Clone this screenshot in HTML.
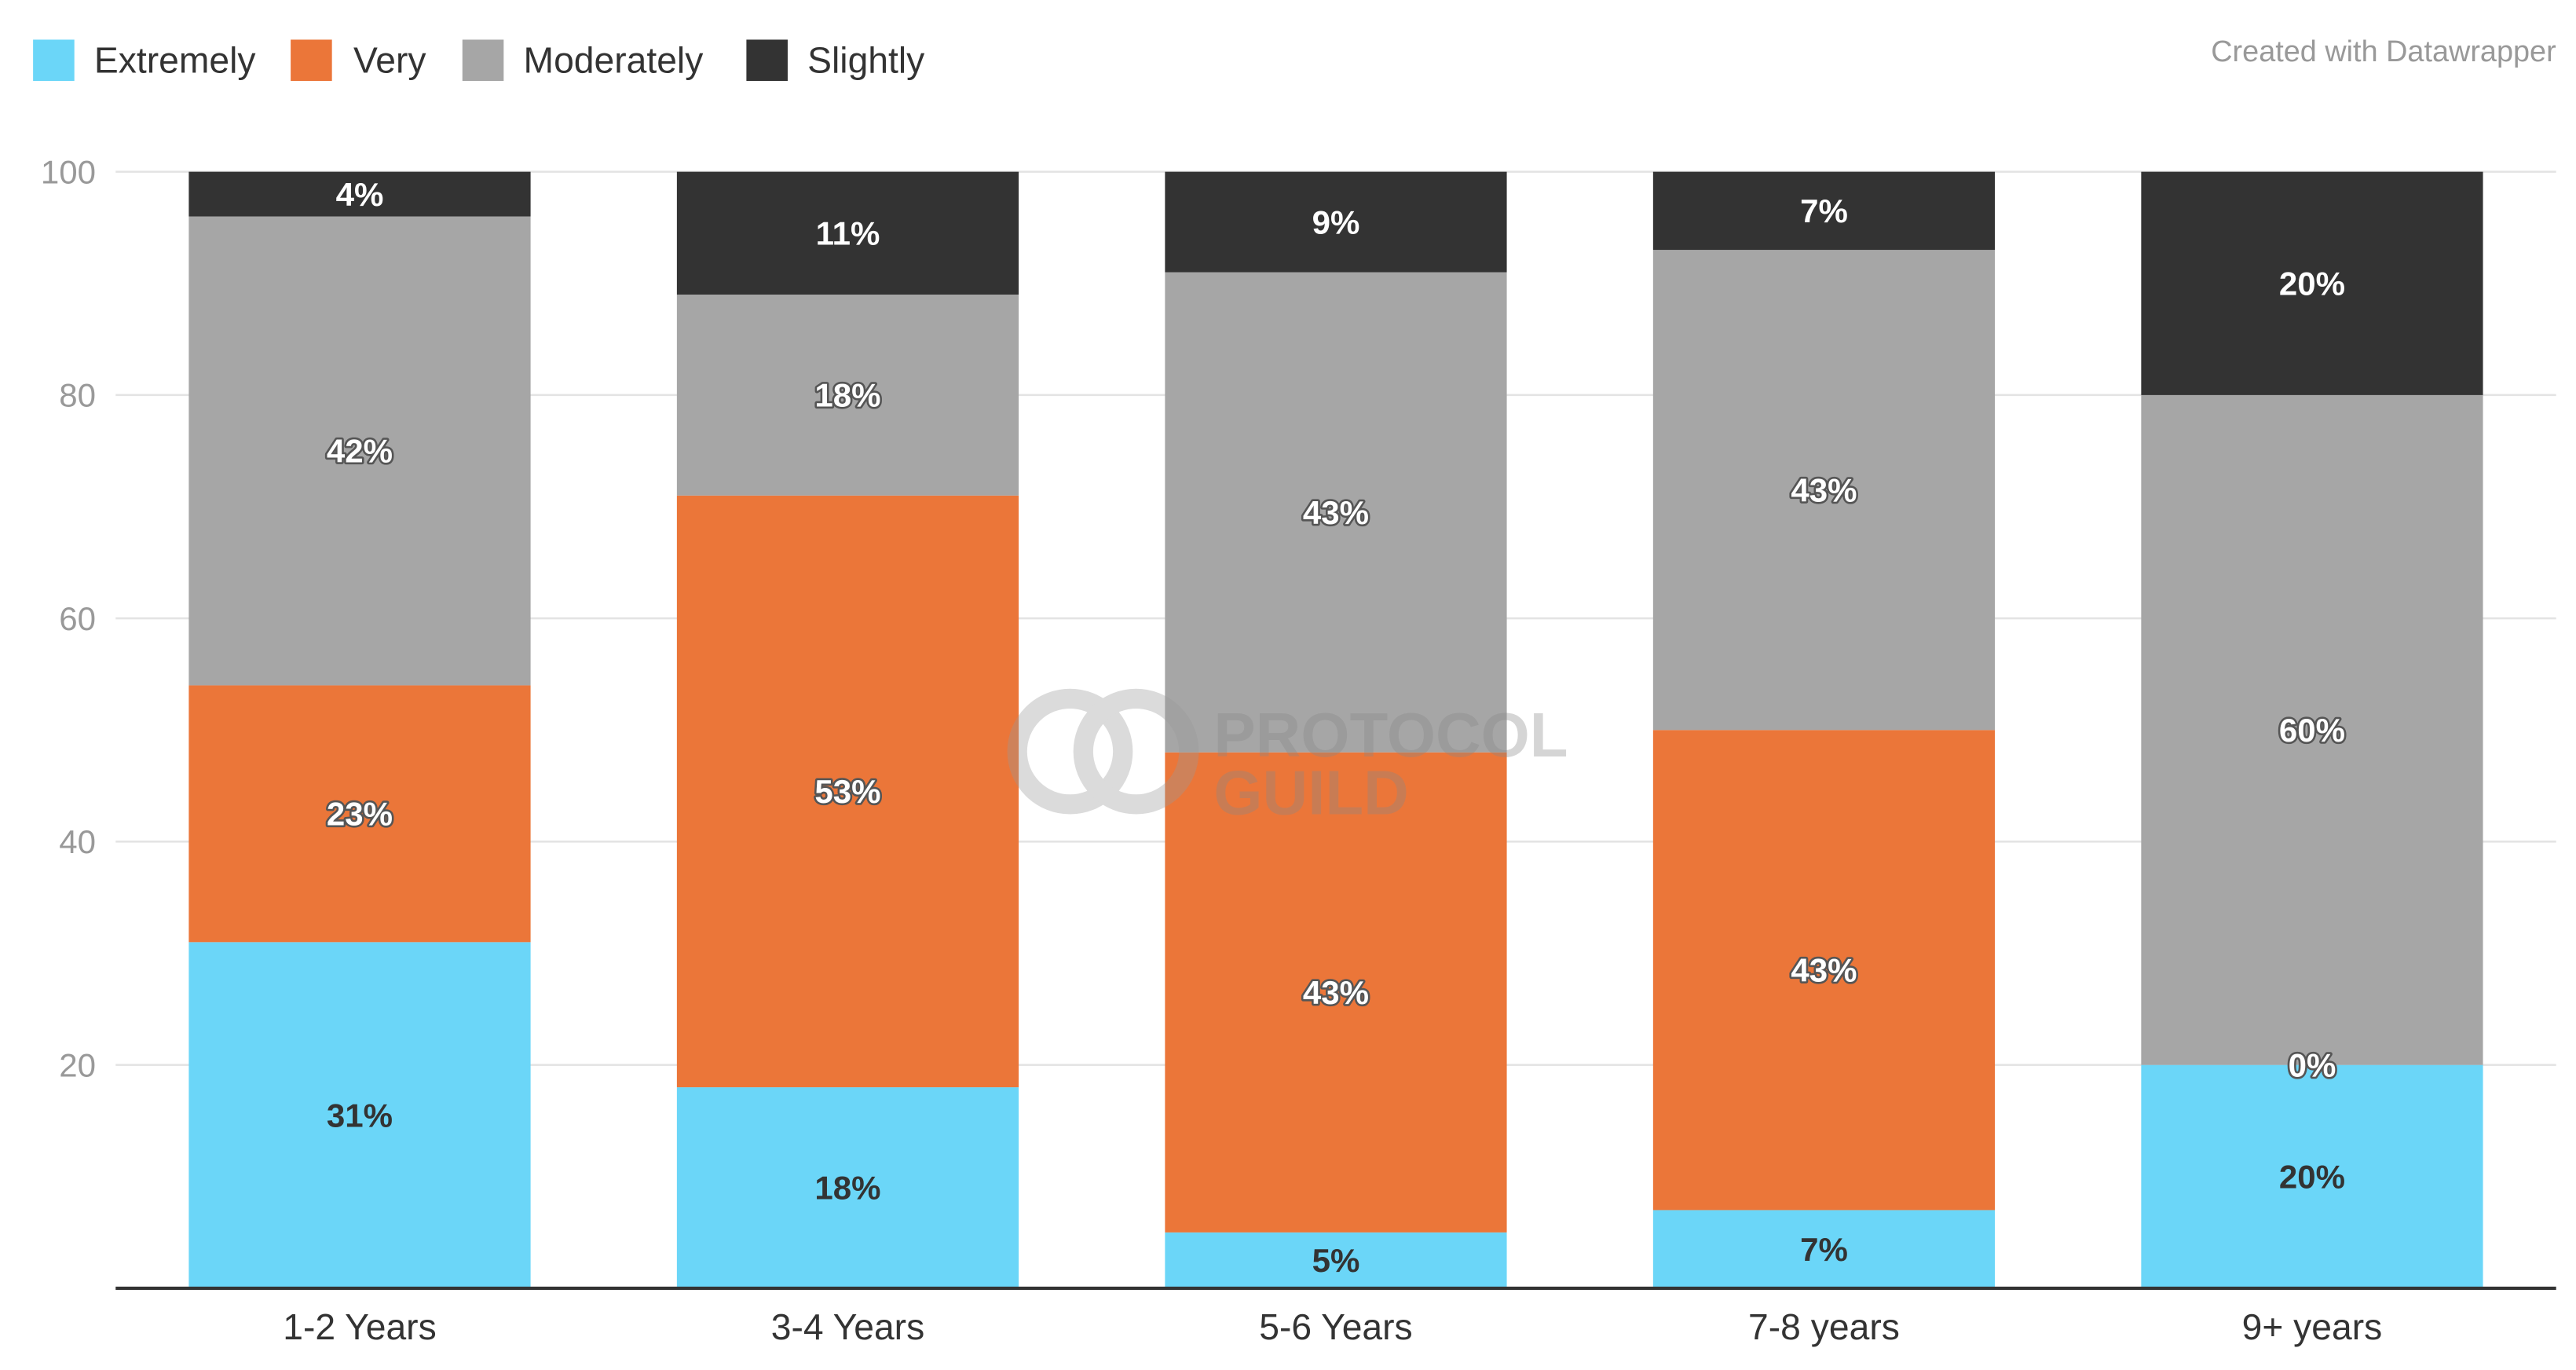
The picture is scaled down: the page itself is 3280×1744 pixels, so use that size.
<!DOCTYPE html>
<html><head><meta charset="utf-8">
<style>
html,body{margin:0;padding:0;background:#fff;}
svg{display:block;font-family:"Liberation Sans",Arial,sans-serif;}
</style></head>
<body>
<svg id="chart" width="3280" height="1744" viewBox="0 0 1560 829.5" xmlns="http://www.w3.org/2000/svg">
  <g id="legend">
    <rect x="20" y="24" width="25" height="25" fill="#6bd6f8"/>
    <text x="57" y="44" font-size="22" fill="#333">Extremely</text>
    <rect x="176" y="24" width="25" height="25" fill="#eb7639"/>
    <text x="214" y="44" font-size="22" fill="#333">Very</text>
    <rect x="280" y="24" width="25" height="25" fill="#a6a6a6"/>
    <text x="317" y="44" font-size="22" fill="#333">Moderately</text>
    <rect x="452" y="24" width="25" height="25" fill="#333333"/>
    <text x="489" y="44" font-size="22" fill="#333">Slightly</text>
  </g>
  <text x="1548" y="37" font-size="18" fill="#999" text-anchor="end">Created with Datawrapper</text>
  <g id="grid"></g>
  <g id="bars"></g>
  <g id="watermark" opacity="0.35">
    <circle cx="648" cy="455" r="32" fill="none" stroke="#999" stroke-width="12"/>
    <circle cx="688" cy="455" r="32" fill="none" stroke="#999" stroke-width="12"/>
    <text x="735" y="458" font-size="38" font-weight="bold" fill="#888">PROTOCOL</text>
    <text x="735" y="493" font-size="38" font-weight="bold" fill="#888">GUILD</text>
  </g>
  <g id="labels"></g>
  <line x1="70" x2="1548" y1="780" y2="780" stroke="#333" stroke-width="2"/>
  <g id="xlabels"></g>
</svg>
<script>
const categories = ["1-2 Years","3-4 Years","5-6 Years","7-8 years","9+ years"];
const extremely = [31,18,5,7,20];
const very = [23,53,43,43,0];
const moderately = [42,18,43,43,60];
const slightly = [4,11,9,7,20];
const yTicks = [20,40,60,80,100];

const NS = "http://www.w3.org/2000/svg";
const plotLeft = 70, plotRight = 1548, y0 = 780, y100 = 104;
const band = (plotRight - plotLeft) / categories.length;
const barW = 207;
function yScale(v){ return y0 - (y0 - y100) * v / 100; }
function xCenter(i){ return plotLeft + band * (i + 0.5); }
function mk(tag, attrs){ const e = document.createElementNS(NS, tag); for (const k in attrs) e.setAttribute(k, attrs[k]); return e; }

const grid = document.getElementById("grid");
yTicks.forEach(t => {
  const l = mk("line", {x1: plotLeft, x2: plotRight, y1: yScale(t), y2: yScale(t), stroke: "#e3e3e3", "stroke-width": 1.2});
  
  
  grid.appendChild(l);
  const tx = mk("text", {x: 58, y: yScale(t) + 7, "font-size": 20, fill: "#999", "text-anchor": "end"});
  tx.textContent = t;
  
  
  grid.appendChild(tx);
});

const series = [
  {name: "extremely", vals: extremely, color: "#6bd6f8", text: "#333", outline: false},
  {name: "very", vals: very, color: "#eb7639", text: "#fff", outline: true},
  {name: "moderately", vals: moderately, color: "#a6a6a6", text: "#fff", outline: true},
  {name: "slightly", vals: slightly, color: "#333333", text: "#fff", outline: false}
];
const bars = document.getElementById("bars");
const labels = document.getElementById("labels");
const xl = document.getElementById("xlabels");
categories.forEach((c, i) => {
  let cum = 0;
  const cx = xCenter(i);
  series.forEach(s => {
    const v = s.vals[i];
    const top = yScale(cum + v), bot = yScale(cum);
    const r = mk("rect", {x: cx - barW/2, y: top, width: barW, height: Math.max(0, bot - top), fill: s.color});
    
    
    bars.appendChild(r);
    const t = mk("text", {x: cx, y: (top + bot)/2 + 7, "font-size": 20, "font-weight": "bold", fill: s.text, "text-anchor": "middle"});
    if (s.outline) { t.setAttribute("stroke", "#555"); t.setAttribute("stroke-width", "2.5"); t.setAttribute("paint-order", "stroke"); t.setAttribute("stroke-linejoin", "round"); }
    t.textContent = v + "%";
    
    
    labels.appendChild(t);
    cum += v;
  });
  const x = mk("text", {x: cx, y: 811, "font-size": 22, fill: "#333", "text-anchor": "middle"});
  x.textContent = c;
  
  
  xl.appendChild(x);
});
</script>
</body></html>
